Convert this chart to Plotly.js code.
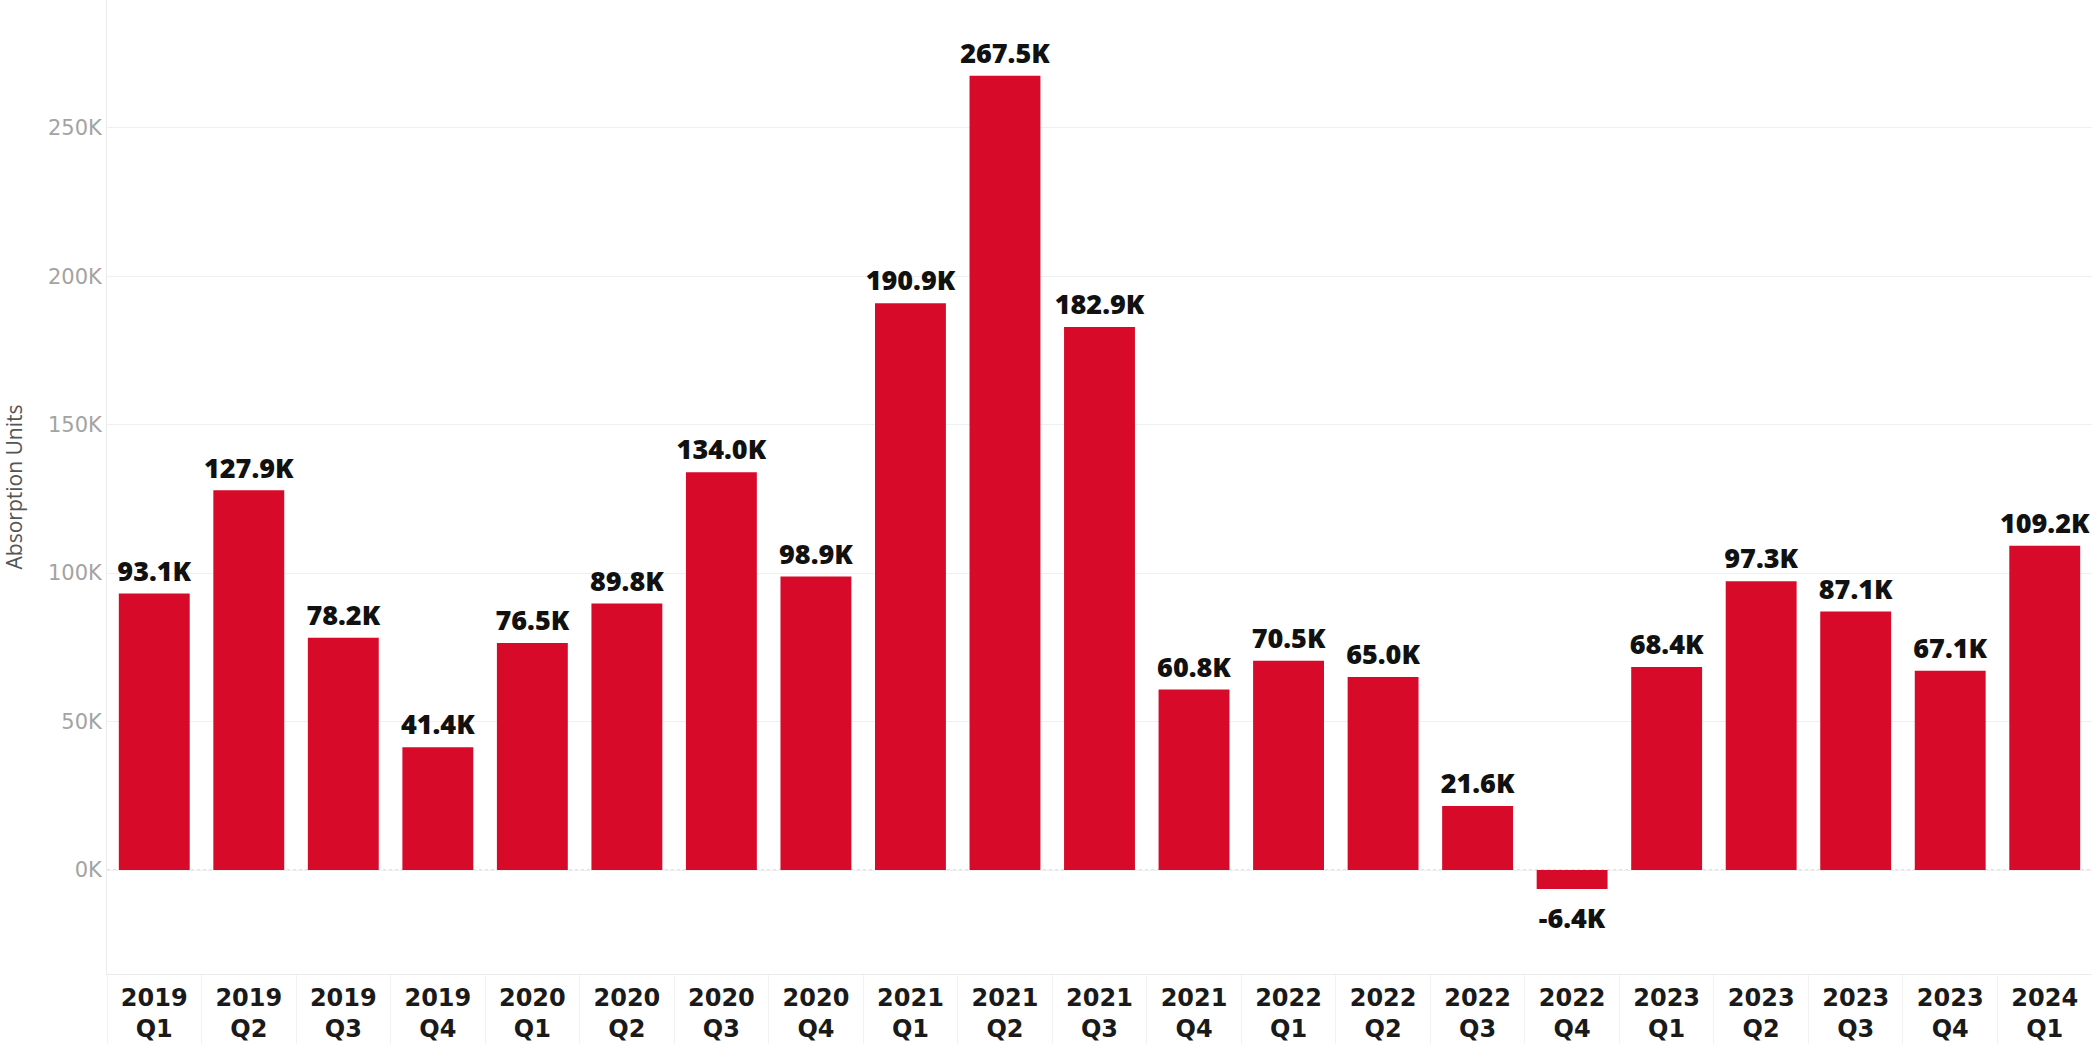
<!DOCTYPE html>
<html>
<head>
<meta charset="utf-8">
<script src="https://cdn.plot.ly/plotly-3.0.1.min.js"></script>
<style>html,body{margin:0;padding:0;background:#fff}#chart{width:2092px;height:1044px}</style>
</head>
<body>
<div id="chart"></div>
<script>
// Quarter labels (year / quarter)
const years = ["2019","2019","2019","2019","2020","2020","2020","2020","2021","2021","2021","2021","2022","2022","2022","2022","2023","2023","2023","2023","2024"];
const quarters = ["Q1","Q2","Q3","Q4","Q1","Q2","Q3","Q4","Q1","Q2","Q3","Q4","Q1","Q2","Q3","Q4","Q1","Q2","Q3","Q4","Q1"];
// Absorption units, in thousands
const absorptionK = [93.1,127.9,78.2,41.4,76.5,89.8,134.0,98.9,190.9,267.5,182.9,60.8,70.5,65.0,21.6,-6.4,68.4,97.3,87.1,67.1,109.2];
const yTickVals = [0,50,100,150,200,250];

const categories = years.map((y,i) => y + "<br>" + quarters[i]);
const labels = absorptionK.map(v => v.toFixed(1) + "K");

const bars = {
  type: "bar",
  x: categories,
  y: absorptionK,
  marker: {color: "#d70b29"},
  hoverinfo: "x+y"
};

const valueLabels = {
  type: "scatter",
  mode: "markers+text",
  x: categories,
  y: absorptionK,
  text: labels,
  textposition: absorptionK.map(v => v >= 0 ? "top center" : "bottom center"),
  cliponaxis: false,
  marker: {size: absorptionK.map(v => v >= 0 ? 8 : 28), opacity: 0, color: "#d70b29"},
  textfont: {family: "Open Sans, sans-serif", size: 27, color: "#111111", weight: 800},
  hoverinfo: "skip"
};

const layout = {
  width: 2092, height: 1044,
  margin: {l: 107, r: 0, t: 0, b: 70, pad: 0},
  paper_bgcolor: "#ffffff",
  plot_bgcolor: "#ffffff",
  bargap: 0.25,
  showlegend: false,
  font: {family: "DejaVu Sans, sans-serif"},
  xaxis: {
    type: "category",
    range: [-0.5, categories.length - 0.5],
    showgrid: false,
    zeroline: false,
    showline: true,
    linecolor: "#ebebeb",
    linewidth: 1,
    ticks: "outside",
    tickson: "boundaries",
    ticklen: 70,
    tickcolor: "#f2f2f2",
    ticklabelstandoff: 2,
    tickfont: {family: "DejaVu Sans, sans-serif", size: 24, color: "#1a1a1a", weight: "bold"},
    fixedrange: true
  },
  yaxis: {
    range: [-35, 293],
    tickvals: yTickVals,
    ticktext: yTickVals.map(v => v + "K"),
    showgrid: true,
    gridcolor: "#f0f0f0",
    gridwidth: 1,
    zeroline: false,
    showline: true,
    linecolor: "#ebebeb",
    ticks: "",
    tickfont: {family: "DejaVu Sans, sans-serif", size: 21, color: "#a3a3a3"},
    title: {text: "Absorption Units", standoff: 22, font: {family: "Open Sans, sans-serif", size: 21, color: "#555555"}},
    fixedrange: true
  },
  shapes: [{
    type: "line", xref: "paper", x0: 0, x1: 1, yref: "y", y0: 0, y1: 0,
    line: {color: "#bdbdbd", width: 1, dash: "dot"}, layer: "below"
  }]
};

Plotly.newPlot("chart", [bars, valueLabels], layout, {displayModeBar: false, staticPlot: true});
</script>
</body>
</html>
